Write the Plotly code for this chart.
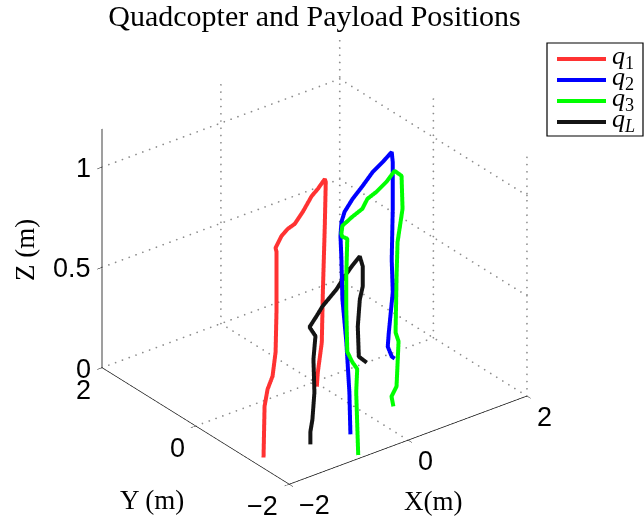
import numpy as np
import plotly.graph_objects as go

# Trajectories (metres): three quadcopters and the suspended payload
q1_x = [-1.886, -1.858, -1.776, -1.706, -1.674, -1.647, -1.630, -1.641, -1.408, -1.243, -1.102,
        -0.848, -0.551, -0.403, -0.227, -0.217, -0.227, -0.248, -0.276, -0.352, -0.362]
q1_y = [-1.306, -1.292, -1.252, -1.270, -1.294, -1.280, -1.259, -1.251, -1.085, -1.005, -0.975,
        -0.825, -0.640, -0.581, -0.508, -0.516, -0.508, -0.493, -0.506, -0.517, -0.509]
q1_z = [0.02, 0.27, 0.34, 0.40, 0.52, 0.73, 1.01, 1.03, 1.04, 1.045, 1.05,
        1.06, 1.08, 1.09, 1.11, 1.095, 0.875, 0.545, 0.30, 0.16, 0.09]

q2_x = [-0.578, -0.589, -0.621, -0.663, -0.657, -0.650, -0.538, -0.371, -0.101, 0.191, 0.499,
        0.740, 0.970, 0.981, 0.981, 0.970, 0.981, 0.939, 0.894, 0.903, 0.934]
q2_y = [-1.501, -1.493, -1.469, -1.438, -1.409, -1.380, -1.260, -1.113, -0.942, -0.786, -0.610,
        -0.518, -0.418, -0.426, -0.426, -0.418, -0.426, -0.395, -0.430, -0.504, -0.527]
q2_z = [0.02, 0.23, 0.48, 0.695, 0.89, 1.00, 1.04, 1.05, 1.06, 1.07, 1.08,
        1.09, 1.10, 1.05, 0.815, 0.565, 0.40, 0.20, 0.14, 0.10, 0.09]

q3_x = [-0.781, -0.786, -0.758, -0.794, -0.813, -0.807, -0.807, -0.796, -0.849, -0.842, -0.730,
        -0.490, -0.266, -0.061, 0.136, 0.393, 0.647, 0.738, 0.748, 0.695, 0.685,
        0.674, 0.723, 0.584, 0.429, 0.349]
q3_y = [-1.926, -1.889, -1.875, -1.815, -1.733, -1.704, -1.704, -1.711, -1.672, -1.643, -1.523,
        -1.431, -1.361, -1.209, -1.152, -1.039, -0.889, -0.923, -0.931, -0.892, -0.884,
        -0.876, -0.878, -1.011, -1.100, -1.243]
q3_z = [0.00, 0.31, 0.42, 0.45, 0.49, 0.70, 0.865, 1.05, 1.06, 1.07, 1.08,
        1.085, 1.09, 1.095, 1.10, 1.105, 1.11, 1.08, 0.915, 0.75, 0.58,
        0.30, 0.25, 0.06, 0.04, 0.02]

qL_x = [-1.170, -1.170, -1.132, -1.111, -1.121, -1.100, -1.163, -0.920, -0.705, -0.287, -0.071,
        0.227, 0.463, 0.478, 0.478, 0.447, 0.425, 0.436, 0.478, 0.537]
qL_y = [-1.399, -1.399, -1.393, -1.409, -1.401, -1.417, -1.370, -1.212, -1.068, -0.837, -0.693,
        -0.508, -0.379, -0.424, -0.424, -0.401, -0.385, -0.393, -0.424, -0.435]
qL_z = [0.02, 0.085, 0.14, 0.275, 0.44, 0.555, 0.60, 0.605, 0.61, 0.615, 0.62,
        0.625, 0.63, 0.585, 0.485, 0.42, 0.285, 0.135, 0.12, 0.10]

series = [
    ("<i>q</i><sub>1</sub>", q1_x, q1_y, q1_z, "rgb(255,50,50)"),
    ("<i>q</i><sub>2</sub>", q2_x, q2_y, q2_z, "rgb(0,0,255)"),
    ("<i>q</i><sub>3</sub>", q3_x, q3_y, q3_z, "rgb(0,255,0)"),
    ("<i>q</i><sub><i>L</i></sub>", qL_x, qL_y, qL_z, "rgb(20,20,20)"),
]

x_ticks = [-2, 0, 2]
y_ticks = [-2, 0, 2]
z_ticks = [0, 0.5, 1]
x_rng, y_rng, z_rng = [-2, 2], [-2, 2], [0, 1.19]

SERIF = "Liberation Serif, DejaVu Serif, serif"
SANS = "Liberation Sans, Arial, sans-serif"


def fmt(v):
    return f"{v:g}".replace("-", "\u2212")


fig = go.Figure()

# Dotted grid on the floor and the two back walls: a row of small dots per tick line
gx, gy, gz = [], [], []
DOTS = {"x": 36, "y": 32, "z": 34}


def dotted(p, q, n):
    t = np.linspace(0.0, 1.0, n)
    gx.extend(p[0] + (q[0] - p[0]) * t)
    gy.extend(p[1] + (q[1] - p[1]) * t)
    gz.extend(p[2] + (q[2] - p[2]) * t)


x0, x1 = x_rng
y0, y1 = y_rng
z0, z1 = z_rng
for v in x_ticks:
    if v != x0:
        dotted((v, y0, z0), (v, y1, z0), DOTS["y"])      # floor, along y
        dotted((v, y1, z0), (v, y1, z1), DOTS["z"])      # back wall y = y1, vertical
for v in y_ticks:
    if v != y0:
        dotted((x0, v, z0), (x1, v, z0), DOTS["x"])      # floor, along x
    dotted((x1, v, z0), (x1, v, z1), DOTS["z"])          # back wall x = x1, vertical
for v in z_ticks:
    dotted((x0, y1, v), (x1, y1, v), DOTS["x"])          # back wall y = y1, horizontal
    dotted((x1, y0, v), (x1, y1, v), DOTS["y"])          # back wall x = x1, horizontal
fig.add_trace(go.Scatter3d(x=gx, y=gy, z=gz, mode="markers", showlegend=False,
                           marker=dict(color="rgb(140,140,140)", size=1, symbol="circle",
                                       line=dict(width=0)),
                           hoverinfo="skip"))

for name, xs, ys, zs, col in series:
    fig.add_trace(go.Scatter3d(
        x=xs, y=ys, z=zs, mode="lines", name=name, showlegend=False,
        line=dict(color=col, width=8), hoverinfo="skip",
    ))

axis_common = dict(
    showbackground=False, showgrid=False,
    zeroline=False, showline=True, linecolor="black", linewidth=1.5,
    ticks="inside", ticklen=6, tickcolor="black", showticklabels=False,
    showspikes=False, title=dict(text=""),
)

# Tick labels as screen-aligned text anchored at the tick positions on each axis edge
tick_font = dict(family=SANS, size=27, color="black")
scene_ann = []
for v in x_ticks:
    scene_ann.append(dict(x=v, y=y0, z=z0, text=fmt(v), showarrow=False,
                          xanchor="left", yanchor="middle", xshift=8, yshift=-21, font=tick_font))
for v in y_ticks:
    scene_ann.append(dict(x=x0, y=v, z=z0, text=fmt(v), showarrow=False,
                          xanchor="right", yanchor="middle", xshift=-9, yshift=-22, font=tick_font))
for v in z_ticks:
    scene_ann.append(dict(x=x0, y=y1, z=v, text=fmt(v), showarrow=False,
                          xanchor="right", yanchor="middle", xshift=-9, yshift=-1, font=tick_font))

# Legend box drawn in paper pixels: frame, line samples and labels
W, H = 644, 525
leg_left, leg_right, leg_top, leg_bottom = 547, 643, 43, 136
leg_rows = [59, 80, 101, 122]
shapes = [dict(type="rect", xref="paper", yref="paper",
               x0=leg_left / W, x1=leg_right / W, y0=1 - leg_bottom / H, y1=1 - leg_top / H,
               line=dict(color="black", width=1.2), fillcolor="white", layer="above")]
annotations = []
for (name, _, _, _, col), ry in zip(series, leg_rows):
    shapes.append(dict(type="line", xref="paper", yref="paper",
                       x0=557 / W, x1=606 / W, y0=1 - ry / H, y1=1 - ry / H,
                       line=dict(color=col, width=4), layer="above"))
    annotations.append(dict(text=name, x=610 / W, y=1 - (ry - 2) / H, xref="paper", yref="paper",
                            xanchor="left", yanchor="middle", showarrow=False,
                            font=dict(family=SERIF, size=26, color="black")))

annotations += [
    dict(text="Z (m)", x=25 / W, y=1 - 250 / H, xref="paper", yref="paper",
         xanchor="center", yanchor="middle",
         showarrow=False, textangle=-90, font=dict(family=SERIF, size=27, color="black")),
    dict(text="Y (m)", x=152 / W, y=1 - 500 / H, xref="paper", yref="paper",
         xanchor="center", yanchor="middle",
         showarrow=False, font=dict(family=SERIF, size=27, color="black")),
    dict(text="X(m)", x=433 / W, y=1 - 501 / H, xref="paper", yref="paper",
         xanchor="center", yanchor="middle",
         showarrow=False, font=dict(family=SERIF, size=27, color="black")),
]

fig.update_layout(
    width=W, height=H,
    margin=dict(l=0, r=0, t=0, b=0),
    paper_bgcolor="white",
    showlegend=False,
    title=dict(text="Quadcopter and Payload Positions", x=314.5 / W, xanchor="center",
               y=1 - 15 / H, yanchor="middle",
               font=dict(family=SERIF, size=30, color="black")),
    scene=dict(
        domain=dict(x=[0.0, 0.977], y=[0.0, 1.0]),
        xaxis=dict(range=x_rng, tickvals=x_ticks, **axis_common),
        yaxis=dict(range=y_rng, tickvals=y_ticks, **axis_common),
        zaxis=dict(range=z_rng, tickvals=z_ticks, **axis_common),
        aspectmode="manual",
        aspectratio=dict(x=1.144, y=1.167, z=1.037),
        camera=dict(
            eye=dict(x=-0.535 * 1.6, y=-0.693 * 1.6, z=0.48 * 1.6),
            up=dict(x=0, y=0, z=1),
            center=dict(x=0, y=0, z=0),
            projection=dict(type="orthographic"),
        ),
        annotations=scene_ann,
    ),
    shapes=shapes,
    annotations=annotations,
)

fig.write_html("out.html")
